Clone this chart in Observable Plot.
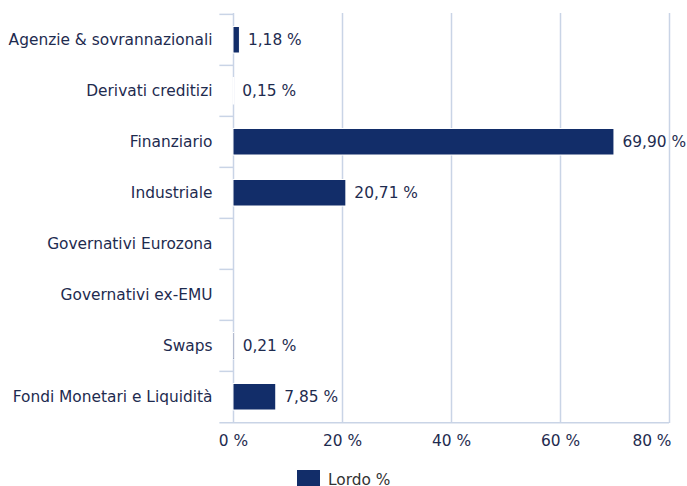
<!DOCTYPE html>
<html><head><meta charset="utf-8">
<script src="https://cdn.jsdelivr.net/npm/d3@7"></script>
<script src="https://cdn.jsdelivr.net/npm/@observablehq/plot@0.6"></script>
<style>
html,body{margin:0;padding:0;background:#fff;overflow:hidden;width:687px;height:486px}
body{font-family:"DejaVu Sans",Verdana,sans-serif;position:relative}
#legend{position:absolute;left:297px;top:470px;display:flex;align-items:flex-start;font-size:15.4px;color:#333;white-space:nowrap}
#legend .sw{width:23px;height:23px;background:#122d69;margin-right:8px}
#legend .lb{line-height:18px;margin-top:1px}
</style></head>
<body>
<div id="chart"></div>
<div id="legend"></div>
<script>
const categories = [
  "Agenzie & sovrannazionali",
  "Derivati creditizi",
  "Finanziario",
  "Industriale",
  "Governativi Eurozona",
  "Governativi ex-EMU",
  "Swaps",
  "Fondi Monetari e Liquidità"
];
const values = [1.18, 0.15, 69.90, 20.71, 0, 0, 0.21, 7.85];
const xTicks = [0, 20, 40, 60, 80];
const seriesName = "Lordo %";

const barColor = "#122d69";
const textColor = "#1e2b4f";
const gridColor = "#c9d4e6";
const FS = 15.4;

const data = categories.map((c, i) => ({category: c, value: values[i]}));
const fmt = v => v.toFixed(2).replace(".", ",") + " %";
const tickFmt = d => d + " %";
const BW = (423 - 13) / categories.length;

const chart = Plot.plot({
  width: 687,
  height: 462,
  marginLeft: 233,
  marginRight: 18,
  marginTop: 13,
  marginBottom: 39,
  style: {fontFamily: "'DejaVu Sans', Verdana, sans-serif", fontSize: FS + "px", color: textColor, background: "#fff"},
  x: {domain: [0, 80]},
  y: {domain: categories, padding: 0},
  marks: [
    Plot.gridX(xTicks, {stroke: gridColor, strokeOpacity: 1, strokeWidth: 1.5}),
    Plot.ruleY(categories, {y: d => d, x1: -2.5, x2: 0, dy: -BW / 2, stroke: gridColor, strokeWidth: 1.5}),
    Plot.ruleY([categories[categories.length - 1]], {y: d => d, x1: -2.5, x2: 80, dy: BW / 2, stroke: gridColor, strokeWidth: 1.5}),
    Plot.barX(data, {y: "category", x: "value", fill: barColor, stroke: "#fff", strokeWidth: 1, insetTop: 12.5, insetBottom: 12}),
    Plot.text(data.filter(d => d.value > 0), {y: "category", x: "value", text: d => fmt(d.value), textAnchor: "start", dx: 8, fill: textColor, fontSize: FS}),
    Plot.axisX(xTicks.slice(0, -1), {tickSize: 0, tickPadding: 12, tickFormat: tickFmt, label: null, fill: textColor, fontSize: FS}),
    Plot.axisX(xTicks.slice(-1), {tickSize: 0, tickPadding: 12, tickFormat: tickFmt, label: null, fill: textColor, fontSize: FS, textAnchor: "end", dx: 2}),
    Plot.axisY({tickSize: 0, tickPadding: 21, label: null, fill: textColor, fontSize: FS})
  ]
});
document.getElementById("chart").appendChild(chart);

const lg = document.getElementById("legend");
lg.innerHTML = `<div class="sw"></div><div class="lb"></div>`;
lg.querySelector(".lb").textContent = seriesName;
</script>
</body></html>
